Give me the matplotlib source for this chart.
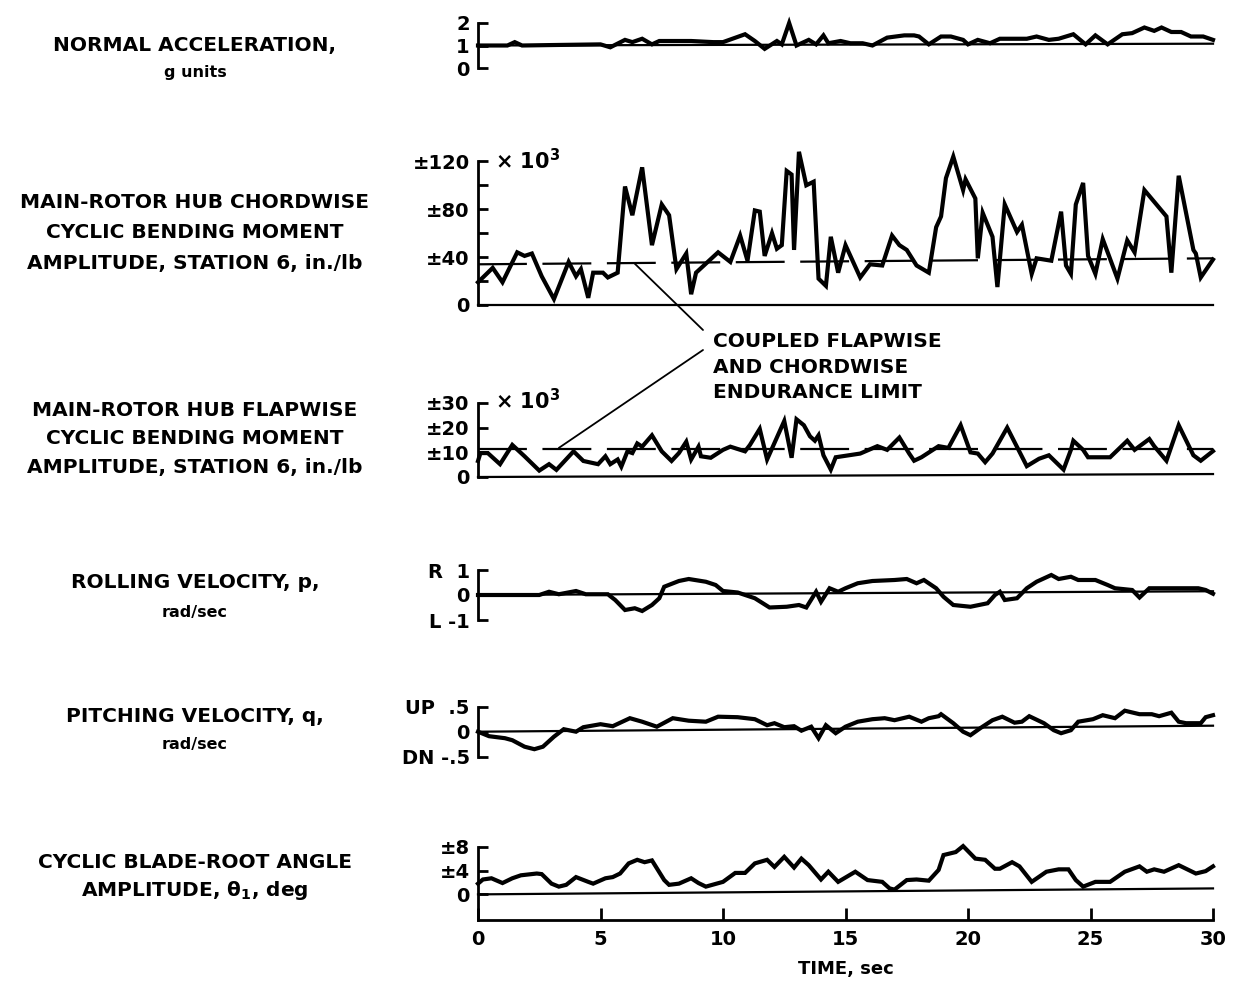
import matplotlib.pyplot as plt

plt.rcParams['font.family'] = ['DejaVu Sans']
plt.rcParams['font.weight'] = 'bold'
plt.rcParams['mathtext.default'] = 'bf'

# normal acceleration, g units
t_nz = [0, 1.2, 1.5, 1.8, 3.0, 5.0, 5.4, 6.0, 6.3, 6.7, 7.1, 7.4, 7.8, 8.7, 9.6, 10.0,
        10.9, 11.3, 11.7, 12.2, 12.4, 12.7, 13.0, 13.5, 13.8, 14.1, 14.3, 14.8, 15.2,
        15.7, 16.1, 16.7, 17.4, 17.8, 18.0, 18.4, 18.9, 19.3, 19.8, 20.0, 20.4, 20.9,
        21.3, 22.4, 22.8, 23.3, 23.7, 24.3, 24.8, 25.2, 25.7, 26.3, 26.7, 27.2, 27.6,
        27.9, 28.3, 28.7, 29.1, 29.6, 30.0]
nz = [1.0, 1.0, 1.15, 1.0, 1.02, 1.05, 0.92, 1.25, 1.15, 1.3, 1.05, 1.2, 1.2, 1.2, 1.15,
      1.15, 1.5, 1.2, 0.85, 1.2, 1.05, 2.0, 1.0, 1.25, 1.05, 1.45, 1.1, 1.2, 1.1, 1.1,
      1.0, 1.35, 1.45, 1.45, 1.4, 1.05, 1.4, 1.4, 1.25, 1.05, 1.25, 1.1, 1.3, 1.3, 1.4,
      1.25, 1.3, 1.5, 1.05, 1.45, 1.05, 1.5, 1.55, 1.8, 1.65, 1.8, 1.6, 1.6, 1.4, 1.4,
      1.25]
nz_ref = [1.0, 1.08]

# chordwise bending moment, x 10^3 in.-lb
t_chord = [0.0, 0.6, 1.0, 1.6, 1.9, 2.2, 2.6, 3.1, 3.7, 4.0, 4.2, 4.5, 4.7, 5.1, 5.3,
           5.7, 6.0, 6.3, 6.7, 7.1, 7.5, 7.8, 8.1, 8.5, 8.7, 8.9, 9.8, 10.3, 10.7, 11.0,
           11.3, 11.5, 11.7, 12.0, 12.2, 12.4, 12.6, 12.8, 12.9, 13.1, 13.4, 13.7, 13.9,
           14.2, 14.4, 14.7, 15.0, 15.6, 16.0, 16.5, 16.9, 17.2, 17.5, 17.9, 18.4, 18.7,
           18.9, 19.1, 19.4, 19.8, 19.9, 20.3, 20.4, 20.6, 21.0, 21.2, 21.5, 22.0, 22.2,
           22.6, 22.8, 23.4, 23.8, 24.0, 24.2, 24.4, 24.7, 24.9, 25.2, 25.5, 26.1, 26.5,
           26.8, 27.2, 28.1, 28.3, 28.6, 29.2, 29.3, 29.5, 30.0]
chord = [19, 31, 19, 44, 41, 43, 24, 5, 36, 24, 30, 6, 27, 27, 23,
         27, 99, 75, 115, 50, 84, 75, 30, 43, 9, 27, 44, 36, 58, 37,
         79, 78, 41, 60, 47, 50, 112, 109, 46, 128, 100, 103, 22,
         16, 57, 27, 50, 23, 34, 33, 58, 50, 46, 33, 27, 65,
         74, 106, 124, 96, 105, 89, 39, 77, 57, 15, 84, 61, 67,
         26, 39, 37, 78, 33, 26, 84, 102, 41, 26, 55, 22, 54,
         44, 96, 74, 27, 108, 46, 43, 23, 38]
chord_limit = [34, 39]

# flapwise bending moment, x 10^3 in.-lb
t_flap = [0.0, 0.1, 0.4, 0.9, 1.4, 1.9, 2.5, 2.9, 3.2, 3.9, 4.3, 4.9, 5.2, 5.4, 5.7,
          5.85, 6.1, 6.3, 6.5, 6.7, 7.1, 7.5, 7.9, 8.2, 8.5, 8.7, 9.0, 9.1, 9.5, 10.0,
          10.3, 10.9, 11.1, 11.5, 11.8, 12.5, 12.8, 13.0, 13.3, 13.55, 13.75, 13.9, 14.1,
          14.4, 14.6, 15.6, 16.3, 16.7, 17.2, 17.6, 17.8, 18.1, 18.8, 19.2, 19.7, 20.1,
          20.4, 20.7, 21.0, 21.6, 22.4, 22.9, 23.3, 23.9, 24.2, 24.3, 24.7, 24.9, 25.8,
          26.5, 26.8, 27.4, 27.6, 28.1, 28.6, 29.2, 29.5, 30.0]
flap = [6.5, 9.7, 9.7, 5.2, 13, 8.4, 2.6, 5.2, 2.9, 10.4, 6.5, 5.2, 8.4, 5.2, 7.1,
        4.2, 10.4, 9.7, 13.6, 12.3, 16.9, 10.4, 6.5, 9.7, 14.3, 7.1, 12.3, 8.4, 7.8, 11,
        12.3, 10.4, 13, 19.5, 7.1, 22.7, 7.8, 23.4, 21, 16.5, 14.7, 16.9, 8.8,
        3, 8, 9.5, 12.5, 11, 16, 9.5, 6.6, 8, 12.5, 11.8, 21, 10,
        9.5, 6, 9.5, 20, 4.4, 7.4, 8.8, 3, 11, 14.7, 11, 8, 8,
        14.7, 11, 15.4, 12.5, 6.6, 21, 8.8, 6.6, 10.5]
flap_ref = [0.0, 1.2]
flap_limit = [11.5, 11.5]

# rolling velocity p, rad/sec
t_p = [0, 2.5, 2.9, 3.3, 4.0, 4.4, 5.3, 5.6, 6.0, 6.4, 6.7, 7.1, 7.4, 7.6, 8.2, 8.6,
       9.3, 9.7, 10.0, 10.6, 11.3, 11.9, 12.6, 13.1, 13.4, 13.8, 14.0, 14.35, 14.7,
       15.0, 15.5, 16.1, 17.0, 17.5, 17.9, 18.2, 18.7, 19.0, 19.4, 20.1, 20.8, 21.1,
       21.3, 21.5, 22.0, 22.4, 22.8, 23.4, 23.7, 24.2, 24.5, 25.2, 25.7, 26.0, 26.7,
       27.0, 27.4, 28.0, 28.7, 29.4, 29.7, 30.0]
p = [0, 0, 0.13, 0.03, 0.16, 0.03, 0.03, -0.2, -0.6, -0.53, -0.64, -0.4, -0.13, 0.33,
     0.56, 0.64, 0.53, 0.4, 0.16, 0.1, -0.13, -0.5, -0.47, -0.4, -0.5, 0.13, -0.27,
     0.27, 0.13, 0.27, 0.47, 0.56, 0.6, 0.64, 0.47, 0.6, 0.27, -0.07, -0.4, -0.47,
     -0.33, 0.0, 0.13, -0.2, -0.13, 0.27, 0.53, 0.8, 0.64, 0.73, 0.6, 0.6, 0.4, 0.27,
     0.2, -0.1, 0.27, 0.27, 0.27, 0.27, 0.2, 0.05]
p_ref = [0.0, 0.15]

# pitching velocity q, rad/sec
t_q = [0, 0.45, 1.1, 1.4, 1.9, 2.3, 2.65, 3.1, 3.5, 4.0, 4.3, 5.0, 5.5, 6.2, 6.7, 7.3,
       7.95, 8.6, 9.3, 9.8, 10.6, 11.3, 11.8, 12.1, 12.5, 12.9, 13.2, 13.6, 13.9, 14.2,
       14.6, 15.0, 15.5, 16.1, 16.6, 17.0, 17.6, 18.1, 18.4, 18.8, 18.9, 19.4, 19.8,
       20.1, 20.5, 21.0, 21.4, 21.9, 22.2, 22.5, 23.1, 23.5, 23.8, 24.2, 24.5, 25.1,
       25.5, 26.0, 26.4, 27.0, 27.5, 27.8, 28.3, 28.6, 28.9, 29.5, 29.7, 30.0]
q = [0, -0.09, -0.13, -0.17, -0.3, -0.35, -0.3, -0.1, 0.05, 0, 0.09, 0.15, 0.11, 0.27,
     0.2, 0.1, 0.27, 0.22, 0.2, 0.3, 0.29, 0.25, 0.13, 0.17, 0.09, 0.11, 0.02, 0.1,
     -0.13, 0.13, -0.03, 0.1, 0.2, 0.25, 0.27, 0.23, 0.3, 0.2, 0.27, 0.31, 0.35, 0.17,
     0.0, -0.07, 0.07, 0.23, 0.3, 0.18, 0.2, 0.31, 0.17, 0.03, -0.03, 0.03, 0.2, 0.25,
     0.33, 0.27, 0.42, 0.35, 0.35, 0.31, 0.38, 0.2, 0.17, 0.17, 0.29, 0.33]
q_ref = [0.0, 0.12]

# cyclic blade-root angle amplitude, deg
t_th = [0, 0.2, 0.55, 1.0, 1.4, 1.75, 2.4, 2.6, 3.0, 3.3, 3.6, 4.0, 4.5, 4.7, 5.2, 5.5,
        5.8, 6.15, 6.5, 6.8, 7.1, 7.6, 7.8, 8.2, 8.7, 9.0, 9.3, 10.0, 10.5, 10.9, 11.3,
        11.8, 12.1, 12.5, 12.9, 13.2, 13.5, 14.0, 14.3, 14.7, 15.4, 15.9, 16.5, 16.8,
        17.0, 17.5, 17.9, 18.4, 18.8, 19.0, 19.5, 19.8, 20.3, 20.7, 21.1, 21.3, 21.8,
        22.1, 22.6, 23.2, 23.7, 24.1, 24.4, 24.7, 25.2, 25.8, 26.4, 27.0, 27.3, 27.6,
        28.0, 28.6, 28.9, 29.3, 29.7, 30.0]
theta = [1.8, 2.5, 2.7, 1.9, 2.7, 3.2, 3.5, 3.4, 1.8, 1.3, 1.6, 2.9, 2.1, 1.8, 2.7, 2.9,
         3.5, 5.2, 5.8, 5.4, 5.7, 2.4, 1.6, 1.8, 2.7, 1.9, 1.3, 2.1, 3.6, 3.6, 5.2,
         5.8, 4.6, 6.3, 4.5, 6.0, 4.9, 2.5, 3.8, 2.1, 3.8, 2.4, 2.1, 1.0,
         0.8, 2.4, 2.5, 2.3, 4.1, 6.6, 7.1, 8.1, 6.0, 5.8, 4.3, 4.3, 5.4,
         4.7, 2.1, 3.8, 4.2, 4.2, 2.4, 1.3, 2.1, 2.1, 3.8, 4.7, 3.8, 4.2,
         3.8, 4.9, 4.3, 3.5, 3.9, 4.7]
theta_ref = [0.0, 1.0]

t_ends = [0, 30]
time_ticks = [0, 5, 10, 15, 20, 25, 30]

W, H = 1244.0, 982.0
fig = plt.figure(figsize=(W / 100, H / 100), dpi=100)


def make_axes(top_px, bottom_px, ylim, bounds):
    ax = fig.add_axes([478 / W, 1 - bottom_px / H, 735 / W, (bottom_px - top_px) / H])
    ax.set_xlim(0, 30)
    ax.set_ylim(*ylim)
    for s in ['top', 'right', 'bottom']:
        ax.spines[s].set_visible(False)
    ax.spines['left'].set_linewidth(2)
    ax.spines['left'].set_bounds(*bounds)
    ax.set_xticks([])
    ax.tick_params(axis='y', which='both', direction='in', length=7, width=2,
                   labelsize=14, pad=6)
    ax.patch.set_alpha(0)
    return ax


def side_label(lines, y_px, sizes=None):
    for i, (s, y) in enumerate(zip(lines, y_px)):
        fs = 14.5 if sizes is None else sizes[i]
        fig.text(195 / W, 1 - y / H, s, ha='center', va='center', fontsize=fs,
                 fontweight='bold')


data_kw = dict(color='black', lw=3, solid_joinstyle='miter', clip_on=False)
ref_kw = dict(color='black', lw=1.6, clip_on=False)
dash_kw = dict(color='black', lw=1.6, linestyle=(0, (22, 7)))

# 1 normal acceleration
ax1 = make_axes(23, 68, (0, 2), (0, 2))
ax1.set_yticks([0, 1, 2])
ax1.plot(t_ends, nz_ref, **ref_kw)
ax1.plot(t_nz, nz, **data_kw)
side_label(['NORMAL ACCELERATION,', 'g units'], [45, 72], [14.5, 11.5])

# 2 chordwise moment
ax2 = make_axes(147, 305, (0, 132), (0, 120))
ax2.set_yticks([0, 40, 80, 120])
ax2.set_yticklabels(['0', '±40', '±80', '±120'])
ax2.set_yticks([20, 60, 100], minor=True)
ax2.plot(t_ends, [0, 0], **ref_kw)
ax2.plot(t_ends, chord_limit, **dash_kw)
ax2.plot(t_chord, chord, **data_kw)
ax2.text(0.7, 121, r'$\times$ 10$^{3}$', ha='left', va='center', fontsize=15)
side_label(['MAIN-ROTOR HUB CHORDWISE', 'CYCLIC BENDING MOMENT',
            'AMPLITUDE, STATION 6, in./lb'], [203, 233, 263])

# 3 flapwise moment
ax3 = make_axes(403, 477, (0, 30), (0, 30))
ax3.set_yticks([0, 10, 20, 30])
ax3.set_yticklabels(['0', '±10', '±20', '±30'])
ax3.plot(t_ends, flap_ref, **ref_kw)
ax3.plot(t_ends, flap_limit, **dash_kw)
ax3.plot(t_flap, flap, **data_kw)
ax3.text(0.7, 31, r'$\times$ 10$^{3}$', ha='left', va='center', fontsize=15)
side_label(['MAIN-ROTOR HUB FLAPWISE', 'CYCLIC BENDING MOMENT',
            'AMPLITUDE, STATION 6, in./lb'], [410, 439, 468])

# endurance limit note
fig.text(713 / W, 1 - 332 / H, 'COUPLED FLAPWISE\nAND CHORDWISE\nENDURANCE LIMIT',
         ha='left', va='top', fontsize=14.5, fontweight='bold', linespacing=1.45)
ax2.annotate('', xy=(6.4, 34.5), xycoords='data',
             xytext=(703 / W, 1 - 330 / H), textcoords='figure fraction',
             arrowprops=dict(arrowstyle='-', color='black', lw=1.3,
                             shrinkA=0, shrinkB=0))
ax3.annotate('', xy=(3.3, 11.8), xycoords='data',
             xytext=(703 / W, 1 - 350 / H), textcoords='figure fraction',
             arrowprops=dict(arrowstyle='-', color='black', lw=1.3,
                             shrinkA=0, shrinkB=0))

# 4 rolling velocity
ax4 = make_axes(570, 620, (-1, 1), (-1, 1))
ax4.set_yticks([-1, 0, 1])
ax4.set_yticklabels(['L -1', '0', 'R  1'])
ax4.plot(t_ends, p_ref, **ref_kw)
ax4.plot(t_p, p, **data_kw)
side_label(['ROLLING VELOCITY, p,', 'rad/sec'], [583, 612], [14.5, 11.5])

# 5 pitching velocity
ax5 = make_axes(706.7, 756.7, (-0.5, 0.5), (-0.5, 0.5))
ax5.set_yticks([-0.5, 0, 0.5])
ax5.set_yticklabels(['DN -.5', '0', 'UP  .5'])
ax5.plot(t_ends, q_ref, **ref_kw)
ax5.plot(t_q, q, **data_kw)
side_label(['PITCHING VELOCITY, q,', 'rad/sec'], [717, 745], [14.5, 11.5])

# 6 blade-root angle + time axis
ax6 = make_axes(846.7, 920, (-4.3, 8), (-4.3, 8))
ax6.set_yticks([0, 4, 8])
ax6.set_yticklabels(['0', '±4', '±8'])
ax6.spines['bottom'].set_visible(True)
ax6.spines['bottom'].set_linewidth(2)
ax6.set_xticks(time_ticks)
ax6.tick_params(axis='x', direction='in', length=9, width=2, labelsize=14, pad=7)
ax6.plot(t_ends, theta_ref, **ref_kw)
ax6.plot(t_th, theta, **data_kw)
ax6.set_xlabel('TIME, sec', fontsize=13, fontweight='bold', labelpad=8)
side_label(['CYCLIC BLADE-ROOT ANGLE', r'AMPLITUDE, $\theta_1$, deg'], [862, 890])

fig.savefig('out.png', dpi=100)
